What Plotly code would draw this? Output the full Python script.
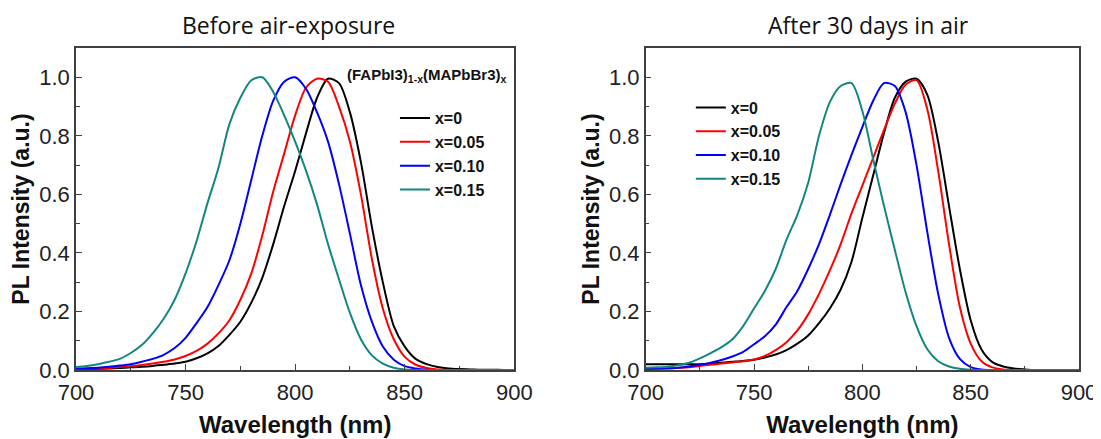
import plotly.graph_objects as go

# wavelength grid (nm), 700..900 every 5 nm
wavelength = list(range(700, 905, 5))

# Before air-exposure
before_x000 = [0.003, 0.003, 0.004, 0.005, 0.007, 0.009, 0.011, 0.014, 0.018, 0.022,
               0.028, 0.040, 0.057, 0.082, 0.120, 0.165, 0.230, 0.315, 0.430, 0.560,
               0.680, 0.810, 0.930, 0.995, 0.980, 0.880, 0.710, 0.490, 0.300, 0.150,
               0.080, 0.038, 0.020, 0.010, 0.005, 0.003, 0.002, 0.001, 0.001, 0.0, 0.0]
before_x005 = [0.003, 0.004, 0.005, 0.007, 0.010, 0.013, 0.017, 0.022, 0.028, 0.036,
               0.048, 0.065, 0.090, 0.125, 0.170, 0.240, 0.330, 0.460, 0.610, 0.740,
               0.870, 0.965, 0.995, 0.985, 0.900, 0.780, 0.600, 0.380, 0.210, 0.105,
               0.045, 0.018, 0.007, 0.002, 0.0, 0.0, 0.0, 0.0, 0.0, 0.0, 0.0]
before_x010 = [0.005, 0.006, 0.008, 0.011, 0.015, 0.020, 0.028, 0.038, 0.052, 0.075,
               0.110, 0.160, 0.215, 0.290, 0.375, 0.500, 0.650, 0.800, 0.920, 0.985,
               1.000, 0.960, 0.880, 0.780, 0.635, 0.465, 0.290, 0.165, 0.080, 0.035,
               0.013, 0.005, 0.001, 0.0, 0.0, 0.0, 0.0, 0.0, 0.0, 0.0, 0.0]
before_x015 = [0.010, 0.014, 0.020, 0.028, 0.038, 0.058, 0.085, 0.125, 0.175, 0.240,
               0.330, 0.440, 0.570, 0.690, 0.840, 0.930, 0.990, 1.000, 0.950, 0.870,
               0.780, 0.680, 0.565, 0.430, 0.310, 0.195, 0.105, 0.050, 0.022, 0.008,
               0.002, 0.0, 0.0, 0.0, 0.0, 0.0, 0.0, 0.0, 0.0, 0.0, 0.0]

# After 30 days in air
after_x000 = [0.020, 0.020, 0.020, 0.020, 0.020, 0.020, 0.022, 0.025, 0.028, 0.031,
              0.035, 0.043, 0.053, 0.068, 0.090, 0.118, 0.160, 0.210, 0.275, 0.370,
              0.520, 0.665, 0.810, 0.930, 0.985, 0.995, 0.940, 0.780, 0.560, 0.345,
              0.170, 0.070, 0.027, 0.012, 0.005, 0.002, 0.0, 0.0, 0.0, 0.0, 0.0]
after_x005 = [0.003, 0.004, 0.005, 0.007, 0.009, 0.014, 0.018, 0.022, 0.026, 0.030,
              0.036, 0.048, 0.068, 0.095, 0.135, 0.190, 0.260, 0.340, 0.430, 0.535,
              0.630, 0.725, 0.820, 0.910, 0.975, 0.990, 0.890, 0.680, 0.430, 0.215,
              0.090, 0.030, 0.009, 0.002, 0.0, 0.0, 0.0, 0.0, 0.0, 0.0, 0.0]
after_x010 = [0.004, 0.005, 0.006, 0.008, 0.012, 0.018, 0.025, 0.034, 0.046, 0.062,
              0.088, 0.115, 0.155, 0.215, 0.270, 0.345, 0.430, 0.530, 0.635, 0.735,
              0.830, 0.920, 0.980, 0.970, 0.880, 0.700, 0.470, 0.260, 0.110, 0.038,
              0.010, 0.002, 0.0, 0.0, 0.0, 0.0, 0.0, 0.0, 0.0, 0.0, 0.0]
after_x015 = [0.008, 0.009, 0.011, 0.016, 0.025, 0.040, 0.058, 0.078, 0.105, 0.150,
              0.210, 0.270, 0.345, 0.445, 0.530, 0.640, 0.800, 0.915, 0.970, 0.980,
              0.885, 0.720, 0.560, 0.410, 0.265, 0.150, 0.071, 0.030, 0.012, 0.004,
              0.001, 0.0, 0.0, 0.0, 0.0, 0.0, 0.0, 0.0, 0.0, 0.0, 0.0]

labels = ["x=0", "x=0.05", "x=0.10", "x=0.15"]
colors = ["#000000", "#ff0000", "#0000ff", "#13877f"]

before = [before_x000, before_x005, before_x010, before_x015]
after = [after_x000, after_x005, after_x010, after_x015]

arial = "Liberation Sans, Arial, sans-serif"
tick_font = dict(family=arial, size=22, color="#222222")

fig = go.Figure()

for ys, name, c in zip(before, labels, colors):
    fig.add_trace(go.Scatter(x=wavelength, y=ys, mode="lines", name="<b>%s</b>" % name,
                             line=dict(color=c, width=2, shape="spline", smoothing=0.8),
                             xaxis="x", yaxis="y", legend="legend"))

for ys, name, c in zip(after, labels, colors):
    fig.add_trace(go.Scatter(x=wavelength, y=ys, mode="lines", name="<b>%s</b>" % name,
                             line=dict(color=c, width=2, shape="spline", smoothing=0.8),
                             xaxis="x2", yaxis="y2", legend="legend2"))

def xax(domain, anchor):
    return dict(domain=domain, anchor=anchor, range=[700, 900], dtick=50,
                showline=True, mirror=True, linecolor="#404040", linewidth=1.5,
                ticks="inside", ticklen=6, tickcolor="#404040", tickwidth=1.2,
                minor=dict(ticks="inside", ticklen=4, dtick=25, tickcolor="#404040"),
                showgrid=False, zeroline=False, tickfont=tick_font, ticklabelstandoff=2,
                title=dict(text="<b>Wavelength (nm)</b>", standoff=12,
                           font=dict(family=arial, size=24, color="#111111")))

def yax(domain, anchor):
    return dict(domain=domain, anchor=anchor, range=[0, 1.1], dtick=0.2, tickformat=".1f",
                showline=True, mirror=True, linecolor="#404040", linewidth=1.5,
                ticks="inside", ticklen=6, tickcolor="#404040", tickwidth=1.2,
                minor=dict(ticks="inside", ticklen=4, dtick=0.1, tickcolor="#404040"),
                showgrid=False, zeroline=False, tickfont=tick_font,
                title=dict(text="<b>PL Intensity (a.u.)</b>", standoff=3,
                           font=dict(family=arial, size=23, color="#111111")))

legend_style = dict(font=dict(family=arial, size=16, color="#111111"),
                    bgcolor="rgba(0,0,0,0)", borderwidth=0, xanchor="left", yanchor="top",
                    tracegroupgap=0)

# page has an 8px body margin, so margins are shifted by that amount
fig.update_layout(
    width=1101, height=439,
    paper_bgcolor="white", plot_bgcolor="white",
    margin=dict(l=66, r=22, t=40, b=77),
    showlegend=True,
    xaxis=xax([0, 0.437], "y"),
    yaxis=yax([0, 1], "x"),
    xaxis2=xax([0.568, 1], "y2"),
    yaxis2=yax([0, 1], "x2"),
    legend=dict(x=0.318, y=0.835, **legend_style),
    legend2=dict(x=0.613, y=0.868, **legend_style),
    annotations=[
        dict(text="Before air-exposure", xref="paper", yref="paper", x=0.212, y=1.07,
             xanchor="center", yanchor="middle", showarrow=False,
             font=dict(family="Open Sans, sans-serif", size=23, color="#111111")),
        dict(text="After 30 days in air", xref="paper", yref="paper", x=0.79, y=1.07,
             xanchor="center", yanchor="middle", showarrow=False,
             font=dict(family="Open Sans, sans-serif", size=23, color="#111111")),
        dict(text="<b>(FAPbI3)<sub>1-x</sub>(MAPbBr3)<sub>x</sub></b>", xref="paper", yref="paper",
             x=0.4317, y=0.916, xanchor="right", yanchor="middle", showarrow=False,
             font=dict(family=arial, size=15, color="#111111")),
    ],
)

fig.write_html("out.html")
